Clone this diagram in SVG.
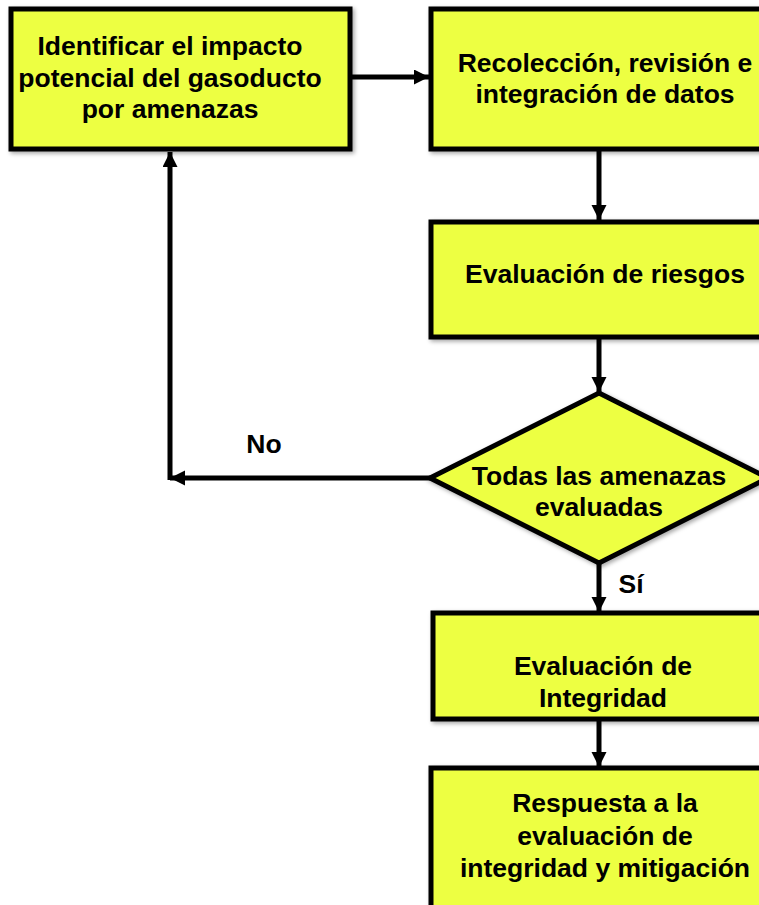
<svg xmlns="http://www.w3.org/2000/svg" width="759" height="905" viewBox="0 0 759 905">
<style>
.box{fill:#EDFF42;stroke:#000;stroke-width:5;filter:url(#sh)}
.t{font-family:"Liberation Sans",Arial,sans-serif;font-weight:bold;font-size:26.5px;fill:#000;text-anchor:middle}
.c{fill:none;stroke:#000;stroke-width:5}
</style>
<defs>
<filter id="sh" x="-10%" y="-10%" width="130%" height="130%">
<feDropShadow dx="2" dy="2" stdDeviation="2" flood-color="#000" flood-opacity="0.35"/>
</filter>
<marker id="ah" markerUnits="userSpaceOnUse" markerWidth="16" markerHeight="16" refX="15" refY="7.5" orient="auto">
<path d="M0,0 L15,7.5 L0,15 Z" fill="#000"/>
</marker>
</defs>
<rect width="759" height="905" fill="#fff"/>
<g id="connectors">
<path class="c" d="M352,77 H429" marker-end="url(#ah)"/>
<path class="c" d="M599,151 V220" marker-end="url(#ah)"/>
<path class="c" d="M599,339 V392" marker-end="url(#ah)"/>
<path class="c" d="M430,478 H170" marker-end="url(#ah)"/>
<path class="c" d="M170,480 V152" marker-end="url(#ah)"/>
<path class="c" d="M599,563 V612" marker-end="url(#ah)"/>
<path class="c" d="M599,721 V767" marker-end="url(#ah)"/>
<text class="t" x="264" y="453">No</text>
<text class="t" x="631" y="593">Sí</text>
</g>
<g id="n1">
<rect class="box" x="11" y="9" width="339" height="140"/>
<text class="t"><tspan x="170" y="55">Identificar el impacto</tspan><tspan x="170" y="87">potencial del gasoducto</tspan><tspan x="170" y="118">por amenazas</tspan></text>
</g>
<g id="n2">
<rect class="box" x="431" y="9" width="360" height="140"/>
<text class="t"><tspan x="605" y="72">Recolección, revisión e</tspan><tspan x="605" y="103">integración de datos</tspan></text>
</g>
<g id="n3">
<rect class="box" x="431" y="222" width="360" height="115"/>
<text class="t" x="605" y="283">Evaluación de riesgos</text>
</g>
<g id="n4">
<polygon class="box" points="599,393 768,478 599,563 430,478"/>
<text class="t"><tspan x="599" y="485">Todas las amenazas</tspan><tspan x="599" y="516">evaluadas</tspan></text>
</g>
<g id="n5">
<rect class="box" x="433" y="613" width="360" height="106"/>
<text class="t"><tspan x="603" y="675">Evaluación de</tspan><tspan x="603" y="707">Integridad</tspan></text>
</g>
<g id="n6">
<rect class="box" x="431" y="768" width="360" height="160"/>
<text class="t"><tspan x="605" y="812">Respuesta a la</tspan><tspan x="605" y="845">evaluación de</tspan><tspan x="605" y="877">integridad y mitigación</tspan></text>
</g>
</svg>
